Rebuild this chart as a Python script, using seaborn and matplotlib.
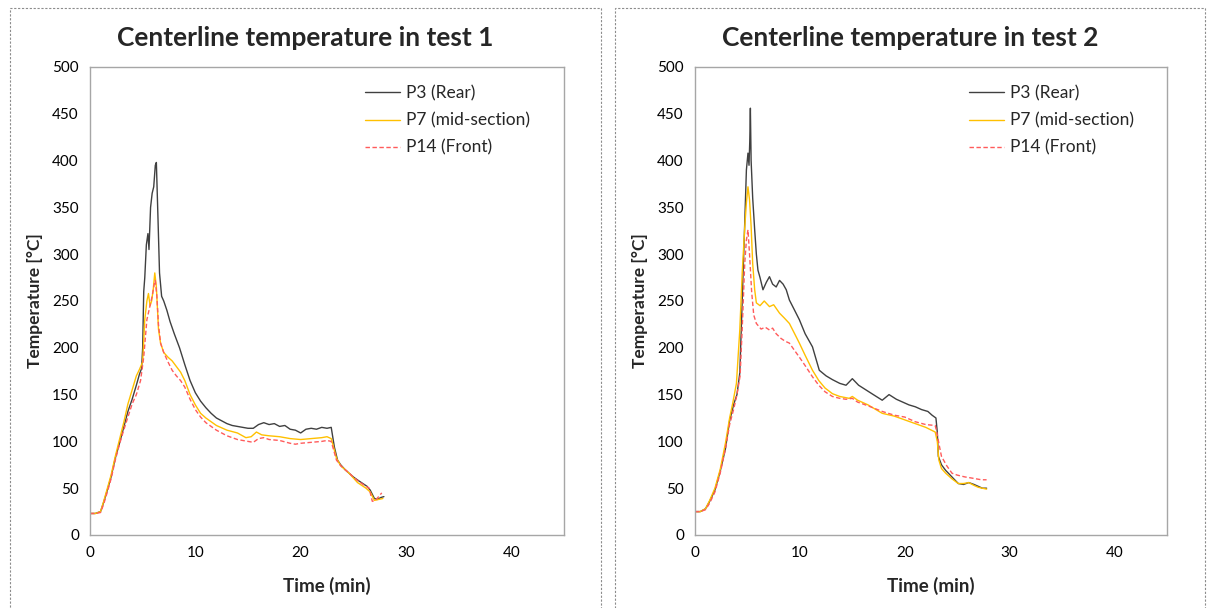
import numpy as np
import pandas as pd
import matplotlib
matplotlib.use("Agg")
import matplotlib.pyplot as plt
from matplotlib.patches import Rectangle
import seaborn as sns

# ---------------- data ----------------
# Test 1
t1_p3 = [0, 0.5, 1.0, 1.3, 1.7, 2.0, 2.4, 2.8, 3.2, 3.6, 4.0, 4.4, 4.7, 4.9, 5.0, 5.1, 5.2, 5.35, 5.5, 5.6,
         5.75, 5.9, 6.05, 6.2, 6.3, 6.45, 6.6, 6.8, 7.0, 7.3, 7.6, 8.0, 8.5, 9.0, 9.5, 10.0, 10.5, 11.0, 11.5,
         12.0, 12.5, 13.0, 13.5, 14.0, 14.5, 15.0, 15.5, 16.0, 16.5, 17.0, 17.5, 18.0, 18.5, 19.0, 19.5, 20.0,
         20.5, 21.0, 21.5, 22.0, 22.5, 22.9, 23.0, 23.2, 23.5, 23.8, 24.2, 24.6, 25.0, 25.5, 25.9, 26.3, 26.6,
         27.0, 27.3, 27.6, 27.9]
T1_p3 = [23, 23, 25, 35, 50, 62, 82, 98, 115, 132, 145, 160, 172, 178, 200, 260, 275, 310, 322, 305,
         350, 365, 372, 395, 398, 340, 280, 255, 250, 240, 228, 215, 200, 182, 165, 152, 143, 136, 130,
         125, 122, 119, 117, 116, 115, 114, 114, 118, 120, 118, 119, 116, 117, 113, 112, 109,
         113, 114, 113, 115, 114, 115, 108, 94, 80, 75, 70, 66, 62, 58, 55, 52, 48,
         39, 38, 40, 41]

t1_p7 = [0, 0.5, 1.0, 1.3, 1.7, 2.0, 2.4, 2.8, 3.2, 3.6, 4.0, 4.4, 4.7, 5.0, 5.2, 5.4, 5.55, 5.7, 5.85, 6.0,
         6.15, 6.3, 6.5, 6.7, 7.0, 7.4, 7.8, 8.2, 8.6, 9.0, 9.5, 10.0, 10.5, 11.0, 12.0, 13.0, 14.0, 14.8,
         15.3, 15.8, 16.3, 17.0, 18.0, 19.0, 20.0, 21.0, 22.0, 22.5, 22.9, 23.1, 23.4, 23.8, 24.2, 24.6,
         25.0, 25.4, 25.8, 26.2, 26.6, 27.0, 27.4, 27.8]
T1_p7 = [23, 23, 25, 36, 52, 64, 84, 102, 120, 140, 155, 170, 177, 185, 230, 250, 258, 245, 250, 262,
         280, 265, 220, 205, 195, 190, 186, 180, 174, 165, 150, 139, 130, 125, 117, 112, 109, 104,
         105, 110, 107, 106, 105, 103, 102, 103, 104, 105, 103, 95, 82, 74, 70, 66,
         61, 56, 53, 50, 46, 37, 38, 39]

t1_p14 = [0, 0.5, 1.0, 1.3, 1.7, 2.0, 2.4, 2.8, 3.2, 3.6, 4.0, 4.4, 4.8, 5.1, 5.4, 5.7, 5.9, 6.1, 6.2, 6.35,
          6.5, 6.7, 7.0, 7.4, 7.8, 8.2, 8.6, 9.0, 9.5, 10.0, 10.5, 11.0, 12.0, 13.0, 14.0, 15.0, 15.5, 16.0,
          16.5, 17.0, 18.0, 19.0, 19.5, 20.0, 21.0, 22.0, 22.5, 22.9, 23.1, 23.4, 23.8, 24.3, 24.8, 25.3,
          25.8, 26.2, 26.5, 26.8, 27.1, 27.4, 27.7]
T1_p14 = [23, 23, 24, 33, 48, 60, 80, 97, 112, 126, 140, 150, 165, 190, 230, 245, 255, 268, 272, 255,
          225, 205, 195, 185, 176, 170, 165, 158, 145, 134, 126, 120, 112, 106, 102, 100, 99, 103,
          104, 102, 101, 98, 97, 98, 99, 100, 101, 100, 92, 80, 74, 69, 64, 59,
          55, 52, 50, 36, 37, 41, 45]

# Test 2
t2_p3 = [0, 0.5, 1.0, 1.4, 1.9, 2.4, 2.9, 3.3, 3.7, 4.0, 4.27, 4.5, 4.74, 4.9, 5.05, 5.15, 5.22, 5.28, 5.35,
         5.5, 5.69, 5.85, 6.0, 6.2, 6.48, 6.8, 7.1, 7.4, 7.74, 8.06, 8.4, 8.7, 9.0, 9.5, 9.95, 10.5, 11.2,
         11.85, 12.5, 13.1, 13.8, 14.4, 15.0, 15.6, 16.3, 17.0, 17.85, 18.5, 19.2, 19.8, 20.4, 21.0, 21.6,
         22.2, 22.6, 22.97, 23.1, 23.2, 23.5, 23.9, 24.5, 25.1, 25.6, 26.1, 26.6, 27.0, 27.4, 27.8]
T2_p3 = [25, 25, 28, 36, 48, 68, 92, 122, 140, 150, 173, 250, 333, 390, 408, 395, 420, 456, 400,
         360, 326, 300, 283, 275, 262, 270, 276, 268, 265, 272, 268, 262, 251, 240, 230, 215, 201,
         176, 170, 166, 162, 160, 167, 160, 155, 150, 144, 150, 145, 142, 139, 137, 134,
         132, 128, 125, 110, 84, 75, 69, 62, 55, 54, 56, 54, 52, 50, 50]

t2_p7 = [0, 0.5, 1.0, 1.4, 1.9, 2.4, 2.9, 3.3, 3.6, 3.95, 4.27, 4.5, 4.75, 4.9, 5.05, 5.2, 5.35, 5.5, 5.69,
         5.85, 6.2, 6.6, 7.1, 7.5, 8.06, 8.5, 9.0, 9.5, 9.95, 10.5, 11.2, 11.8, 12.4, 13.1, 13.8, 14.7,
         15.0, 15.5, 16.5, 17.85, 19.0, 20.0, 21.0, 22.0, 22.9, 23.1, 23.25, 23.5, 23.9, 24.5, 25.1,
         25.6, 26.1, 26.6, 27.0, 27.4, 27.8]
T2_p7 = [25, 25, 28, 37, 50, 70, 98, 125, 141, 162, 219, 280, 330, 355, 372, 358, 330, 290, 262,
         248, 245, 250, 244, 246, 237, 232, 226, 215, 205, 192, 176, 165, 157, 151, 148, 146,
         148, 144, 139, 130, 127, 123, 119, 115, 110, 100, 80, 71, 66, 60, 55,
         55, 56, 53, 51, 50, 49]

t2_p14 = [0, 0.5, 1.0, 1.4, 1.9, 2.4, 2.9, 3.3, 3.7, 4.0, 4.3, 4.5, 4.74, 4.9, 5.05, 5.2, 5.4, 5.6, 5.85,
          6.3, 6.7, 7.1, 7.4, 7.74, 8.2, 8.6, 9.0, 9.5, 9.95, 10.5, 11.2, 11.8, 12.4, 13.1, 13.8, 14.4,
          15.0, 15.5, 16.5, 17.85, 19.0, 20.0, 21.0, 22.0, 22.9, 23.05, 23.3, 23.5, 24.0, 24.5, 25.0,
          25.75, 26.3, 26.8, 27.3, 27.8]
T2_p14 = [25, 25, 27, 34, 46, 66, 92, 118, 135, 150, 170, 220, 290, 315, 326, 300, 260, 235, 226,
          220, 222, 219, 221, 215, 210, 207, 205, 197, 190, 181, 169, 160, 153, 148, 146, 145,
          146, 142, 138, 132, 128, 126, 121, 118, 117, 110, 95, 84, 74, 66, 64,
          62, 61, 60, 59, 59]

series_labels = ["P3 (Rear)", "P7 (mid-section)", "P14 (Front)"]
titles = ["Centerline temperature in test 1", "Centerline temperature in test 2"]
x_ticks = [0, 10, 20, 30, 40]
y_ticks = [0, 50, 100, 150, 200, 250, 300, 350, 400, 450, 500]

tests = [
    [(t1_p3, T1_p3), (t1_p7, T1_p7), (t1_p14, T1_p14)],
    [(t2_p3, T2_p3), (t2_p7, T2_p7), (t2_p14, T2_p14)],
]

# ---------------- style ----------------
sns.set_theme(style="white")
plt.rcParams["font.family"] = ["Lato", "DejaVu Sans"]

colors = ["#404040", "#FFC000", "#FF5B5B"]
styles = ["-", "-", (0, (3.2, 1.8))]

W, H = 1210, 608
fig = plt.figure(figsize=(W / 100, H / 100), dpi=100)

panels_px = [(10, 601), (615, 1205)]
# dashed panel borders
for x0, x1 in panels_px:
    fig.patches.append(Rectangle((x0 / W, -0.05), (x1 - x0) / W, 1.05 - 8 / H,
                                 transform=fig.transFigure, fill=False,
                                 edgecolor="#8c8c8c", linestyle=(0, (2, 1.5)), linewidth=0.8))

axes_px = [(90, 564), (695, 1167)]
top_px, bot_px = 67, 535

for k, (xl, xr) in enumerate(axes_px):
    ax = fig.add_axes([xl / W, 1 - bot_px / H, (xr - xl) / W, (bot_px - top_px) / H])
    for (t, T), lab, c, ls in zip(tests[k], series_labels, colors, styles):
        sns.lineplot(x=t, y=T, ax=ax, color=c, linestyle=ls, linewidth=1.0, label=lab)
    ax.set_xlim(0, 45)
    ax.set_ylim(0, 500)
    ax.set_xticks(x_ticks)
    ax.set_yticks(y_ticks)
    ax.tick_params(axis="both", labelsize=11, length=0, pad=8, colors="black")
    for s in ax.spines.values():
        s.set_color("#a6a6a6")
        s.set_linewidth(1.0)
    ax.set_xlabel("Time (min)", fontsize=13.5, fontweight="bold", labelpad=12)
    ax.set_ylabel("Temperature [\u00b0C]", fontsize=12.5, fontweight="bold", labelpad=7)
    px0, px1 = panels_px[k]
    fig.text((px0 + px1) / 2 / W, 1 - 38 / H, titles[k], fontsize=19, fontweight="bold",
             ha="center", va="center")
    ax.legend(loc="upper left", bbox_to_anchor=(0.547, 0.994), frameon=False,
              fontsize=12.5, handlelength=2.0, labelspacing=0.63, handletextpad=0.35)

fig.savefig("out.png", dpi=100)
